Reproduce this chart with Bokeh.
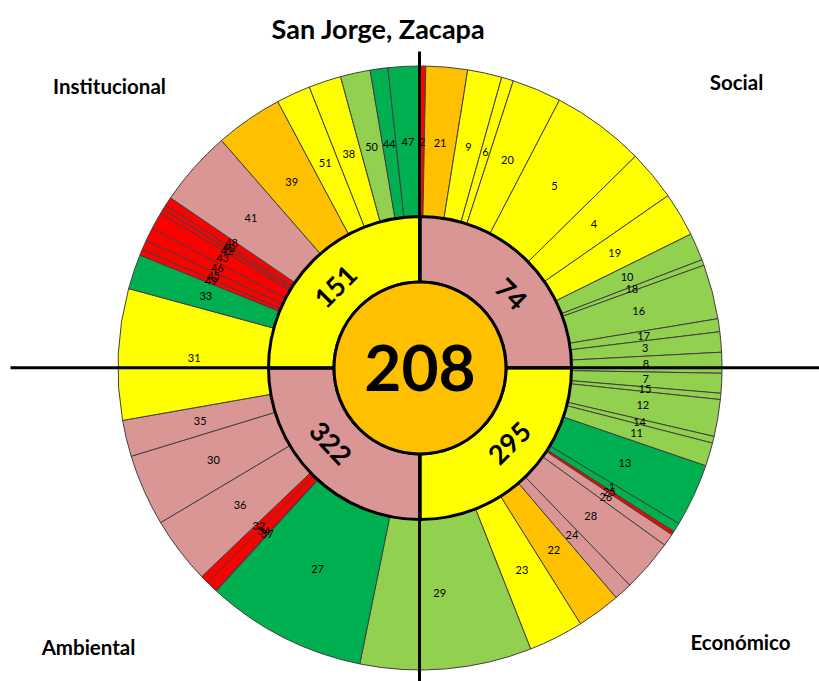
import math
from bokeh.plotting import figure
from bokeh.models import Range1d, ColumnDataSource
from bokeh.embed import file_html
from bokeh.resources import INLINE
from bokeh.core.properties import value

# ---------------- data ----------------
chart_title = "San Jorge, Zacapa"
dimensions = ["Social", "Económico", "Ambiental", "Institucional"]
dimension_scores = [74, 295, 322, 151]
dimension_levels = ["pink", "yellow", "pink", "yellow"]
overall_score = 208
overall_level = "orange"

# outer ring, clockwise from 12 o'clock
indicator_ids = ["2", "21", "9", "6", "20", "5", "4", "19", "10", "18", "16", "17", "3", "8",
                 "7", "15", "12", "14", "11", "13", "1", "25", "26", "28", "24", "22", "23", "29",
                 "27", "37", "34", "32", "36", "30", "35", "31",
                 "33", "49", "45", "46", "43", "42", "40", "48", "41", "39", "51", "38", "50", "44", "47"]
indicator_spans = [1.1, 8.0, 6.6, 2.3, 9.5, 18.0, 9.7, 8.5, 5.3, 1.1, 10.5, 2.5, 3.9, 4.0,
                   3.8, 1.2, 7.1, 1.3, 4.5, 12.1, 1.8, 0.7, 2.4, 10.1, 3.5, 8.4, 10.6, 33.0,
                   30.9, 0.3, 2.0, 1.6, 12.9, 13.8, 7.0, 25.25,
                   6.7, 1.15, 1.9, 2.5, 3.3, 0.95, 0.85, 1.7, 14.6, 13.0, 6.6, 6.25, 5.75, 3.4, 6.1]
indicator_levels = ["red", "orange", "yellow", "yellow", "yellow", "yellow", "yellow", "yellow",
                    "lightgreen", "lightgreen", "lightgreen", "lightgreen", "lightgreen", "lightgreen",
                    "lightgreen", "lightgreen", "lightgreen", "lightgreen", "lightgreen", "green", "green",
                    "red", "pink", "pink", "pink", "orange", "yellow", "lightgreen",
                    "green", "red", "red", "red", "pink", "pink", "pink", "yellow",
                    "green", "red", "red", "red", "red", "red", "red", "red", "pink", "orange",
                    "yellow", "yellow", "lightgreen", "green", "green"]

palette = {"red": "#FF0000", "orange": "#FFC000", "yellow": "#FFFF00",
           "lightgreen": "#92D050", "green": "#00B050", "pink": "#DA9694"}

# ---------------- geometry ----------------
CX, CY = 419.5, 367.5          # centre in page pixels
R_CORE, R_MID, R_OUT = 86, 151.5, 302
R_LABEL = 226
FONT = "Lato"
W, H = 819, 681

def px(X, Y):
    return X - CX, CY - Y

p = figure(width=W, height=H,
           x_range=Range1d(0 - CX, W - CX), y_range=Range1d(CY - H, CY - 0),
           output_backend="svg", toolbar_location=None, min_border=0,
           x_axis_type=None, y_axis_type=None)
p.grid.visible = False
p.outline_line_color = None
p.background_fill_color = "white"

# outer ring
starts, ends, lx, ly = [], [], [], []
acc = 0.0
for sp in indicator_spans:
    b0, b1 = acc, acc + sp
    acc = b1
    starts.append(math.radians(90 - b1))
    ends.append(math.radians(90 - b0))
    mid = math.radians((b0 + b1) / 2)
    lx.append(R_LABEL * math.sin(mid))
    ly.append(R_LABEL * math.cos(mid))
cols = [palette[l] for l in indicator_levels]
outer = ColumnDataSource(dict(s=starts, e=ends, c=cols, x=lx, y=ly, t=indicator_ids))
p.annular_wedge(x=0, y=0, inner_radius=R_MID, outer_radius=R_OUT, start_angle="s", end_angle="e",
                fill_color="c", line_color="#404040", line_width=1, source=outer)
p.text(x="x", y="y", text="t", source=outer, text_font=value(FONT), text_font_size=value("11px"),
       text_align="center", text_baseline="middle", text_color="black")

# middle ring (four equal quadrants)
m_s, m_e, m_c = [], [], []
for i, lev in enumerate(dimension_levels):
    b0, b1 = 90 * i, 90 * (i + 1)
    m_s.append(math.radians(90 - b1))
    m_e.append(math.radians(90 - b0))
    m_c.append(palette[lev])
p.annular_wedge(x=0, y=0, inner_radius=R_CORE, outer_radius=R_MID, start_angle=m_s, end_angle=m_e,
                fill_color=m_c, line_color="black", line_width=3)

# cross lines
p.segment(x0=[10 - CX, -0.5], y0=[0.3, CY - 51], x1=[W - CX, -0.5], y1=[0.3, CY - H],
          line_color="black", line_width=3)

# core
p.circle(x=[0], y=[0], radius=R_CORE, fill_color=palette[overall_level], line_color="black", line_width=3)

# middle labels
mid_bearings = [51, 130, 230, 314]
mid_rot = [-45, 45, -47, 45]
mx = [117 * math.sin(math.radians(b)) for b in mid_bearings]
my = [117 * math.cos(math.radians(b)) for b in mid_bearings]
p.text(x=mx, y=my, text=[str(v) for v in dimension_scores], angle=[math.radians(a) for a in mid_rot],
       text_font=value(FONT), text_font_size=value("27px"), text_font_style="bold",
       text_align="center", text_baseline="middle", text_color="black")

p.text(x=[0], y=[0], text=[str(overall_score)], text_font=value(FONT), text_font_size=value("64px"),
       text_font_style="bold", text_align="center", text_baseline="middle", text_color="black")

# title and quadrant names
tx, ty = px(378, 28)
p.text(x=[tx], y=[ty], text=[chart_title], text_font=value(FONT), text_font_size=value("27px"),
       text_font_style="bold", text_align="center", text_baseline="middle", text_color="black")
qpos = [(736, 81), (740, 641), (88, 646), (109, 85)]
qx = [px(a, b)[0] for a, b in qpos]
qy = [px(a, b)[1] for a, b in qpos]
p.text(x=qx, y=qy, text=dimensions, text_font=value(FONT), text_font_size=value("20.5px"),
       text_font_style="bold", text_align="center", text_baseline="middle", text_color="black")

open("out.html", "w").write(file_html(p, INLINE))
